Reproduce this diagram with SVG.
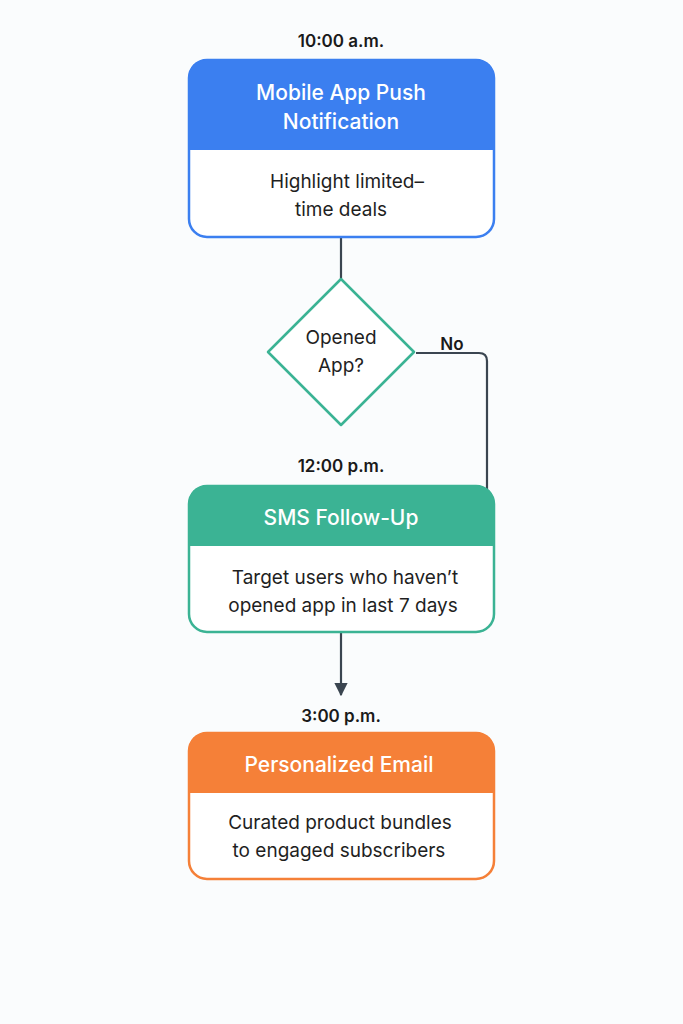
<svg xmlns="http://www.w3.org/2000/svg" width="683" height="1024" viewBox="0 0 683 1024">
<style>
text{font-family:Inter,"Noto Sans",sans-serif;text-anchor:middle}
.t{font-size:17px;font-weight:600;fill:#1a1a1a}
.h{font-size:21px;font-weight:500;fill:#fff}
.b{font-size:19px;fill:#1f1f1f}
.c{fill:none;stroke:#3a4550;stroke-width:2.2}
</style>
<defs><marker id="a" viewBox="0 0 10 10" refX="9" refY="5" markerWidth="6" markerHeight="6" orient="auto"><path d="M0,0L10,5L0,10z" fill="#3a4550"/></marker></defs>
<rect width="683" height="1024" fill="#fafcfd"/>
<g id="connectors">
<path class="c" d="M341,238V280"/>
<path class="c" d="M416,353H479Q487,353 487,361V490"/>
<path class="c" d="M341,633V695" marker-end="url(#a)"/>
<text class="t" x="452" y="350">No</text>
</g>
<g id="n1">
<text class="t" x="341" y="47">10:00 a.m.</text>
<rect x="189" y="60" width="305" height="177" rx="18" fill="#fff" stroke="#3b7ff0" stroke-width="2.5"/>
<path d="M189,150V78Q189,60 207,60H476Q494,60 494,78V150Z" fill="#3b7ff0"/>
<text class="h" x="341" y="100">Mobile App Push</text>
<text class="h" x="341" y="129">Notification</text>
<text class="b" x="347" y="188">Highlight limited–</text>
<text class="b" x="341" y="216">time deals</text>
</g>
<g id="d1">
<path d="M341,279L414,352L341,425L268,352Z" fill="#fff" stroke="#3bb394" stroke-width="2.5" stroke-linejoin="round"/>
<text class="b" x="341" y="344">Opened</text>
<text class="b" x="341" y="372">App?</text>
</g>
<g id="n2">
<text class="t" x="341" y="472">12:00 p.m.</text>
<rect x="189" y="486" width="305" height="146" rx="18" fill="#fff" stroke="#3bb394" stroke-width="2.5"/>
<path d="M189,546V504Q189,486 207,486H476Q494,486 494,504V546Z" fill="#3bb394"/>
<text class="h" x="341" y="525">SMS Follow-Up</text>
<text class="b" x="345" y="584">Target users who haven’t</text>
<text class="b" x="343" y="612">opened app in last 7 days</text>
</g>
<g id="n3">
<text class="t" x="341" y="722">3:00 p.m.</text>
<rect x="189" y="733" width="305" height="146" rx="18" fill="#fff" stroke="#f58038" stroke-width="2.5"/>
<path d="M189,793V751Q189,733 207,733H476Q494,733 494,751V793Z" fill="#f58038"/>
<text class="h" x="339" y="772">Personalized Email</text>
<text class="b" x="340" y="829">Curated product bundles</text>
<text class="b" x="339" y="857">to engaged subscribers</text>
</g>
</svg>
